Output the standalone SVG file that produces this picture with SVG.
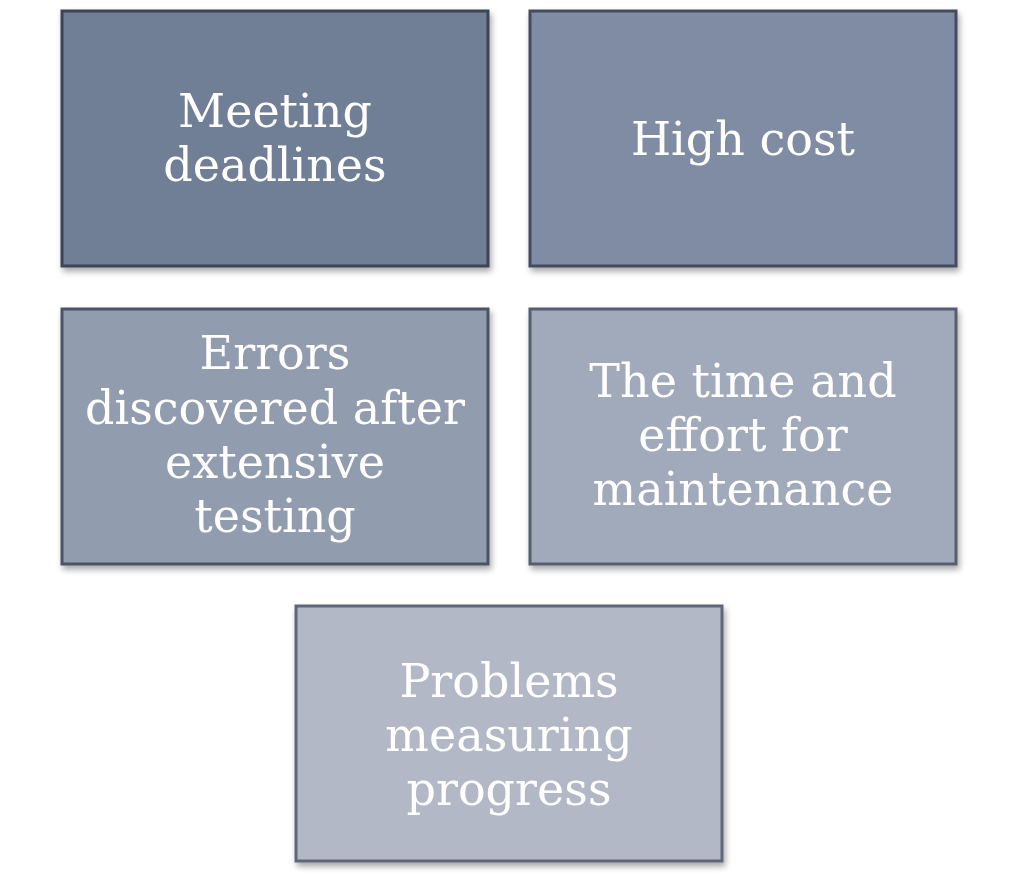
<svg xmlns="http://www.w3.org/2000/svg" width="1017" height="881" viewBox="0 0 1017 881">
<defs>
<filter id="sh" x="-10%" y="-10%" width="125%" height="125%">
<feGaussianBlur in="SourceAlpha" stdDeviation="3"/>
<feOffset dx="2" dy="4" result="b"/>
<feComponentTransfer><feFuncA type="linear" slope="0.35"/></feComponentTransfer>
<feMerge><feMergeNode/><feMergeNode in="SourceGraphic"/></feMerge>
</filter>
</defs>
<style>
.t{font-family:"DejaVu Serif","Liberation Serif",serif;font-size:46px;fill:#ffffff;text-anchor:middle}
rect{stroke-width:3}
</style>
<rect width="1017" height="881" fill="#ffffff"/>
<g id="connectors"/>
<g id="n1" filter="url(#sh)">
<rect x="62" y="11" width="426" height="255" fill="#707f96" stroke="#3b4457"/>
<text class="t" x="275" y="127">Meeting</text>
<text class="t" x="275" y="181">deadlines</text>
</g>
<g id="n2" filter="url(#sh)">
<rect x="530" y="11" width="426" height="255" fill="#808ca3" stroke="#434c5f"/>
<text class="t" x="743" y="155">High cost</text>
</g>
<g id="n3" filter="url(#sh)">
<rect x="62" y="309" width="426" height="255" fill="#919cae" stroke="#4b5366"/>
<text class="t" x="275" y="369">Errors</text>
<text class="t" x="275" y="424">discovered after</text>
<text class="t" x="275" y="478">extensive</text>
<text class="t" x="275" y="532">testing</text>
</g>
<g id="n4" filter="url(#sh)">
<rect x="530" y="309" width="426" height="255" fill="#a1aabb" stroke="#555d6f"/>
<text class="t" x="743" y="397">The time and</text>
<text class="t" x="743" y="451">effort for</text>
<text class="t" x="743" y="505">maintenance</text>
</g>
<g id="n5" filter="url(#sh)">
<rect x="296" y="606" width="426" height="255" fill="#b2b8c6" stroke="#5f6678"/>
<text class="t" x="509" y="697">Problems</text>
<text class="t" x="509" y="751">measuring</text>
<text class="t" x="509" y="805">progress</text>
</g>
</svg>
